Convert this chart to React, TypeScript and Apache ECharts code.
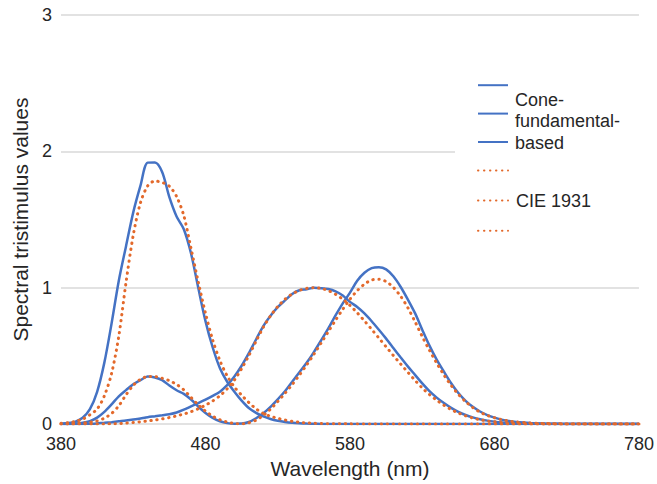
import React, { useEffect, useRef } from "react";
import * as echarts from "echarts";

const WAVELENGTHS = [
  380, 385, 390, 395, 400, 405, 410, 415, 420, 425, 430, 435, 440, 445, 450, 455, 460, 465, 470, 475,
  480, 485, 490, 495, 500, 505, 510, 515, 520, 525, 530, 535, 540, 545, 550, 555, 560, 565, 570, 575,
  580, 585, 590, 595, 600, 605, 610, 615, 620, 625, 630, 635, 640, 645, 650, 655, 660, 665, 670, 675,
  680, 685, 690, 695, 700, 705, 710, 715, 720, 725, 730, 735, 740, 745, 750, 755, 760, 765, 770, 775, 780,
];

// Cone-fundamental-based (blue, solid)
const CONE_X = [
  0.0005, 0.0015, 0.0038, 0.0094, 0.0221, 0.0474, 0.0895, 0.1446, 0.2036, 0.2489, 0.2918, 0.3227, 0.3483, 0.3418, 0.3225, 0.2827, 0.2485, 0.222, 0.1807, 0.1292,
  0.0818, 0.046, 0.0208, 0.0071, 0.0025, 0.0036, 0.0156, 0.0432, 0.0796, 0.1268, 0.1818, 0.2405, 0.3098, 0.3804, 0.4494, 0.528, 0.6134, 0.7017, 0.7968, 0.8853,
  0.9638, 1.051, 1.1098, 1.1436, 1.151, 1.1348, 1.0839, 1.0073, 0.9143, 0.8136, 0.6925, 0.5755, 0.4731, 0.3845, 0.2997, 0.2278, 0.1708, 0.1264, 0.0922, 0.0664,
  0.0471, 0.0329, 0.0226, 0.0158, 0.011, 0.0076, 0.0052, 0.0036, 0.0025, 0.0017, 0.0012, 0.0008, 0.0006, 0.0004, 0.0003, 0.0002, 0.0001, 0.0001, 0.0001, 0.0001, 0.0,
];
const CONE_Y = [
  0.0001, 0.0002, 0.0004, 0.0011, 0.0025, 0.005, 0.0091, 0.0143, 0.0203, 0.0261, 0.0332, 0.0416, 0.0503, 0.0574, 0.0647, 0.0724, 0.0851, 0.106, 0.1299, 0.1535,
  0.1788, 0.2065, 0.2379, 0.2851, 0.3484, 0.4278, 0.5205, 0.6206, 0.7181, 0.7946, 0.8576, 0.9071, 0.9545, 0.9814, 0.989, 0.9995, 0.9968, 0.9903, 0.9733, 0.9425,
  0.8964, 0.8587, 0.8116, 0.7545, 0.6919, 0.627, 0.5584, 0.4896, 0.423, 0.3609, 0.2981, 0.2417, 0.1943, 0.1547, 0.1193, 0.0898, 0.0667, 0.049, 0.0356, 0.0255,
  0.0181, 0.0126, 0.0087, 0.006, 0.0042, 0.0029, 0.002, 0.0014, 0.0009, 0.0007, 0.0005, 0.0003, 0.0002, 0.0002, 0.0001, 0.0001, 0.0001, 0.0, 0.0, 0.0, 0.0,
];
const CONE_Z = [
  0.0025, 0.0075, 0.0185, 0.0461, 0.1096, 0.2369, 0.4508, 0.7379, 1.0518, 1.305, 1.5528, 1.7483, 1.9175, 1.9184, 1.8485, 1.6644, 1.5222, 1.4284, 1.2506, 0.9992,
  0.7552, 0.5617, 0.4099, 0.3106, 0.2377, 0.172, 0.1177, 0.0828, 0.0565, 0.0375, 0.0244, 0.0157, 0.0098, 0.0061, 0.0038, 0.0023, 0.0014, 0.0009, 0.0005, 0.0003,
  0.0002, 0.0001, 0.0001, 0.0001, 0.0, 0.0, 0.0, 0.0, 0.0, 0.0, 0.0, 0.0, 0.0, 0.0, 0.0, 0.0, 0.0, 0.0, 0.0, 0.0,
  0.0, 0.0, 0.0, 0.0, 0.0, 0.0, 0.0, 0.0, 0.0, 0.0, 0.0, 0.0, 0.0, 0.0, 0.0, 0.0, 0.0, 0.0, 0.0, 0.0, 0.0,
];

// CIE 1931 (orange, dotted)
const CIE_X = [
  0.0014, 0.0022, 0.0042, 0.0077, 0.0143, 0.0232, 0.0435, 0.0776, 0.1344, 0.2148, 0.2839, 0.3285, 0.3483, 0.3481, 0.3362, 0.3187, 0.2908, 0.2511, 0.1954, 0.1421,
  0.0956, 0.058, 0.032, 0.0147, 0.0049, 0.0024, 0.0093, 0.0291, 0.0633, 0.1096, 0.1655, 0.2257, 0.2904, 0.3597, 0.4334, 0.5121, 0.5945, 0.6784, 0.7621, 0.8425,
  0.9163, 0.9786, 1.0263, 1.0567, 1.0622, 1.0456, 1.0026, 0.9384, 0.8544, 0.7514, 0.6424, 0.5419, 0.4479, 0.3608, 0.2835, 0.2187, 0.1649, 0.1212, 0.0874, 0.0636,
  0.0468, 0.0329, 0.0227, 0.0158, 0.0114, 0.0081, 0.0058, 0.0041, 0.0029, 0.002, 0.0014, 0.001, 0.0007, 0.0005, 0.0003, 0.0002, 0.0002, 0.0001, 0.0001, 0.0001, 0.0,
];
const CIE_Y = [
  0.0, 0.0001, 0.0001, 0.0002, 0.0004, 0.0006, 0.0012, 0.0022, 0.004, 0.0073, 0.0116, 0.0168, 0.023, 0.0298, 0.038, 0.048, 0.06, 0.0739, 0.091, 0.1126,
  0.139, 0.1693, 0.208, 0.2586, 0.323, 0.4073, 0.503, 0.6082, 0.71, 0.7932, 0.862, 0.9149, 0.954, 0.9803, 0.995, 1.0, 0.995, 0.9786, 0.952, 0.9154,
  0.87, 0.8163, 0.757, 0.6949, 0.631, 0.5668, 0.503, 0.4412, 0.381, 0.321, 0.265, 0.217, 0.175, 0.1382, 0.107, 0.0816, 0.061, 0.0446, 0.032, 0.0232,
  0.017, 0.0119, 0.0082, 0.0057, 0.0041, 0.0029, 0.0021, 0.0015, 0.001, 0.0007, 0.0005, 0.0004, 0.0002, 0.0002, 0.0001, 0.0001, 0.0001, 0.0, 0.0, 0.0, 0.0,
];
const CIE_Z = [
  0.0065, 0.0106, 0.0201, 0.0362, 0.0679, 0.1102, 0.2074, 0.3713, 0.6456, 1.0391, 1.3856, 1.623, 1.7471, 1.7826, 1.7721, 1.7441, 1.6692, 1.5281, 1.2876, 1.0419,
  0.813, 0.6162, 0.4652, 0.3533, 0.272, 0.2123, 0.1582, 0.1117, 0.0783, 0.0573, 0.0422, 0.0298, 0.0203, 0.0134, 0.0088, 0.0058, 0.0039, 0.0028, 0.0021, 0.0018,
  0.0017, 0.0014, 0.0011, 0.001, 0.0008, 0.0006, 0.0003, 0.0002, 0.0002, 0.0001, 0.0001, 0.0, 0.0, 0.0, 0.0, 0.0, 0.0, 0.0, 0.0, 0.0,
  0.0, 0.0, 0.0, 0.0, 0.0, 0.0, 0.0, 0.0, 0.0, 0.0, 0.0, 0.0, 0.0, 0.0, 0.0, 0.0, 0.0, 0.0, 0.0, 0.0, 0.0,
];

const X_TICKS = [380, 480, 580, 680, 780];
const CONE_NAMES = ["Cone-fundamental-based x̄", "Cone-fundamental-based ȳ", "Cone-fundamental-based z̄"];
const CIE_NAMES = ["CIE 1931 x̄", "CIE 1931 ȳ", "CIE 1931 z̄"];
const CONE_LABEL = "Cone-\nfundamental-\nbased";
const CIE_LABEL = "CIE 1931";
const X_TITLE = "Wavelength (nm)";
const Y_TITLE = "Spectral tristimulus values";

const BLUE = "#4472c4";
const ORANGE = "#e3692b";
const TEXT = "#262626";
const FONT = "'Liberation Sans', Arial, Helvetica, sans-serif";

export default function App() {
  const ref = useRef<HTMLDivElement>(null);

  useEffect(() => {
    const chart = echarts.init(ref.current!, null, { renderer: "svg" });
    const pairs = (vals: number[]) => WAVELENGTHS.map((w, i) => [w, vals[i]]);

    const coneSeries = [CONE_X, CONE_Y, CONE_Z].map((vals, i) => ({
      name: CONE_NAMES[i],
      type: "line",
      data: pairs(vals),
      symbol: "none",
      smooth: 0.3,
      lineStyle: { color: BLUE, width: 2.5, type: "solid" },
      itemStyle: { color: BLUE },
      z: 2,
    }));
    const cieSeries = [CIE_X, CIE_Y, CIE_Z].map((vals, i) => ({
      name: CIE_NAMES[i],
      type: "line",
      data: pairs(vals),
      symbol: "none",
      smooth: 0.3,
      lineStyle: { color: ORANGE, width: 3, type: [0.4, 5.6], cap: "round" },
      itemStyle: { color: ORANGE },
      z: 3,
    }));

    chart.setOption({
      animation: false,
      backgroundColor: "#ffffff",
      textStyle: { fontFamily: FONT },
      grid: { left: 61, right: 16, top: 15, bottom: 59, containLabel: false },
      xAxis: {
        type: "value",
        min: 380,
        max: 780,
        name: X_TITLE,
        nameLocation: "middle",
        nameGap: 32,
        nameTextStyle: { fontSize: 21, color: TEXT, fontFamily: FONT },
        axisLine: { show: false },
        axisTick: { show: false },
        splitLine: { show: false },
        axisLabel: {
          customValues: X_TICKS,
          fontSize: 18,
          color: TEXT,
          margin: 11,
          fontFamily: FONT,
        },
      },
      yAxis: {
        type: "value",
        min: 0,
        max: 3,
        interval: 1,
        name: Y_TITLE,
        nameLocation: "middle",
        nameGap: 30,
        nameTextStyle: { fontSize: 21, color: TEXT, fontFamily: FONT },
        axisLine: { show: false },
        axisTick: { show: false },
        splitLine: { show: true, lineStyle: { color: "#d9d9d9", width: 1.5 } },
        axisLabel: { fontSize: 18, color: TEXT, margin: 9, fontFamily: FONT },
      },
      legend: {
        orient: "vertical",
        left: 455,
        top: 70,
        padding: [8, 80, 8, 22],
        backgroundColor: "#ffffff",
        itemWidth: 30,
        itemHeight: 18,
        itemGap: 14,
        selectedMode: false,
        itemStyle: { opacity: 0, borderWidth: 0 },
        data: [...CONE_NAMES, ...CIE_NAMES],
        formatter: (name: string) => (name === CIE_NAMES[1] ? CIE_LABEL : ""),
        textStyle: { fontSize: 18, lineHeight: 18, color: TEXT, fontFamily: FONT, padding: [0, 0, 0, 3] },
        z: 10,
      },
      graphic: [
        {
          type: "text",
          left: 515,
          top: 89,
          z: 100,
          style: {
            text: CONE_LABEL,
            fontSize: 18,
            lineHeight: 21.5,
            fill: TEXT,
            fontFamily: FONT,
          },
        },
      ],
      series: [...coneSeries, ...cieSeries],
    });

    return () => chart.dispose();
  }, []);

  return (
    <div
      ref={ref}
      style={{ position: "fixed", left: 0, top: 0, width: 657, height: 484, background: "#fff" }}
    />
  );
}
